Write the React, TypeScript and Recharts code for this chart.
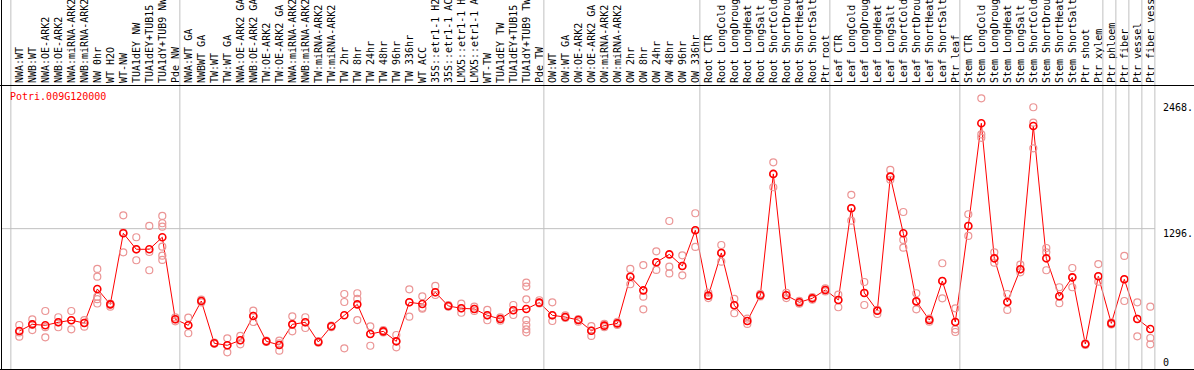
import { ComposedChart, Line, Scatter, XAxis, YAxis, ReferenceLine } from "recharts";

const categories = [
  "NWA:WT", "NWB:WT", "NWA:OE-ARK2", "NWB:OE-ARK2", "NWA:miRNA-ARK2", "NWB:miRNA-ARK2", "NW 0hr", "WT H2O", "WT-NW",
  "TUA1dEY NW", "TUA1dEY+TUB15", "TUA1dY+TUB9 NW", "Pde NW",
  "NWA:WT GA", "NWBWT GA", "TW:WT", "TW:WT GA", "NWA:OE-ARK2 GA", "NWB:OE-ARK2 GA", "TW:OE-ARK2", "TW:OE-ARK2 GA",
  "NWA:miRNA-ARK2", "NWB:miRNA-ARK2", "TW:miRNA-ARK2", "TW:miRNA-ARK2", "TW 2hr", "TW 8hr", "TW 24hr", "TW 48hr",
  "TW 96hr", "TW 336hr", "WT ACC", "35S::etr1-1 H2", "35S::etr1-1 AC", "LMX5::etr1-1 H", "LMX5::etr1-1 A", "WT-TW",
  "TUA1dEY TW", "TUA1dEY+TUB15", "TUA1dY+TUB9 TW", "Pde TW",
  "OW:WT", "OW:WT GA", "OW:OE-ARK2", "OW:OE-ARK2 GA", "OW:miRNA-ARK2", "OW:miRNA-ARK2", "OW 2hr", "OW 8hr",
  "OW 24hr", "OW 48hr", "OW 96hr", "OW 336hr",
  "Root CTR", "Root LongCold", "Root LongDroug", "Root LongHeat", "Root LongSalt", "Root ShortCold", "Root ShortDrou",
  "Root ShortHeat", "Root ShortSalt", "Ptr root",
  "Leaf CTR", "Leaf LongCold", "Leaf LongDroug", "Leaf LongHeat", "Leaf LongSalt", "Leaf ShortCold", "Leaf ShortDrou",
  "Leaf ShortHeat", "Leaf ShortSalt", "Ptr leaf",
  "Stem CTR", "Stem LongCold", "Stem LongDroug", "Stem LongHeat", "Stem LongSalt", "Stem ShortCold", "Stem ShortDrou",
  "Stem ShortHeat", "Stem ShortSalt", "Ptr shoot", "Ptr xylem",
  "Ptr phloem", "Ptr fiber", "Ptr vessel", "Ptr fiber vess",
];

const means = [
  344, 406, 397, 425, 444, 418, 735, 592, 1253, 1104, 1104, 1216, 453,
  397, 623, 230, 211, 258, 484, 248, 214, 406, 425, 242, 388, 490, 592, 316, 341, 248, 611, 595, 704, 577, 555, 549,
  490, 456, 537, 549, 608,
  490, 474, 446, 347, 394, 415, 849, 722, 983, 1057, 949, 1281,
  673, 1070, 583, 437, 676, 1805, 676, 611, 648, 726,
  633, 1486, 698, 533, 1780, 1253, 620, 446, 809, 428,
  1321, 2276, 1020, 614, 918, 2251, 1020, 667, 843, 223, 853,
  415, 825, 456, 363,
];

const replicates = [
  [400, 330, 291], [453, 406, 353], [530, 380, 285], [472, 425, 379], [530, 444, 360], [446, 420, 384],
  [921, 849, 663, 600, 640], [600, 592, 570], [1420, 1260, 1076], [1216, 1104, 1002], [1321, 1079, 909],
  [1414, 1346, 1314, 1128, 1045, 1005], [434, 453, 470],
  [468, 397, 323], [623, 610, 636], [230, 225, 236], [276, 211, 146], [298, 258, 220], [533, 484, 428],
  [254, 248, 242], [254, 230, 161], [481, 406, 341], [472, 425, 372], [242, 235, 250], [388, 380, 395],
  [688, 614, 183], [695, 642, 446], [388, 316, 207], [341, 352, 330], [307, 248, 192], [732, 611, 477],
  [667, 552, 560], [763, 704, 679], [577, 570, 585], [598, 555, 514], [570, 549, 530], [540, 490, 444],
  [470, 456, 440], [586, 537, 493], [794, 757, 639, 446, 400, 360, 332], [630, 608, 600],
  [611, 490, 437], [490, 474, 465], [446, 430, 455], [390, 347, 298], [410, 394, 380], [430, 415, 400],
  [921, 849, 779], [957, 663, 546], [1085, 983, 912], [1367, 942, 880], [1048, 949, 862], [1439, 1281, 1126],
  [700, 673, 650], [1144, 1070, 989], [642, 583, 509], [460, 437, 410], [690, 676, 665], [1913, 1805, 1681],
  [700, 676, 650], [625, 611, 598], [660, 648, 635], [740, 726, 712],
  [682, 633, 565], [1611, 1486, 1370], [800, 698, 586], [540, 533, 502], [1842, 1780, 1750],
  [1451, 1191, 1119], [695, 620, 546], [460, 446, 430], [974, 809, 648], [555, 428, 360, 335],
  [1430, 1321, 1228], [2508, 2172, 2141], [1076, 1020, 980], [688, 614, 540], [961, 918, 890],
  [2425, 2282, 2043], [1116, 1076, 909], [751, 667, 602], [930, 843, 751], [230, 223, 215], [967, 853, 803],
  [425, 415, 405], [1042, 825, 623], [611, 456, 295], [570, 279, 220],
];

// first index of each sample group; the last entry closes the final group
const groupStarts = [0, 13, 41, 53, 63, 73, 84, 85, 86, 87, 88];
const yTicks = [0, 1296, 2468];

const W = 1194;
const H = 370;
const font = "'DejaVu Sans Mono', monospace";

const meanData = means.map((v, i) => ({ idx: i, mean: v }));
const repData = replicates.flatMap((reps, i) => reps.map((v) => ({ idx: i, value: v })));
const boundaries = groupStarts.map((s) => s - 0.65);
const topTicks = [...categories.map((_, i) => i), ...boundaries];

function TopTick(props: any) {
  const { x, y, payload } = props;
  const v = payload.value;
  if (!Number.isInteger(v)) {
    return <line x1={x} x2={x} y1={0} y2={369} stroke="#c0c0c0" strokeWidth={1} />;
  }
  return (
    <text
      transform={`translate(${x + 3.5},${y}) rotate(-90)`}
      textAnchor="start"
      fontFamily={font}
      fontSize={10}
      fill="#000"
    >
      {categories[v]}
    </text>
  );
}

function RightTick(props: any) {
  const { x, y, payload } = props;
  const v = payload.value;
  return (
    <text x={x} y={v === 0 ? y - 2 : y + 8.5} textAnchor="start" fontFamily={font} fontSize={10} fill="#000">
      {v === 0 ? "0" : `${v}.`}
    </text>
  );
}

export default function App() {
  return (
    <div style={{ position: "relative", width: W, height: H, background: "#fff" }}>
      <style>{"body{margin:0}"}</style>
      <ComposedChart width={W} height={H} data={meanData} margin={{ top: 0, right: 0, bottom: 2, left: 1 }}>
        <XAxis dataKey="idx" type="number" domain={[-1.408, 87.36]} allowDataOverflow hide />
        <XAxis
          xAxisId="top"
          orientation="top"
          dataKey="idx"
          type="number"
          domain={[-1.408, 87.36]}
          allowDataOverflow
          height={85}
          ticks={topTicks}
          interval={0}
          tickSize={0}
          tickMargin={2}
          axisLine={false}
          tickLine={false}
          tick={<TopTick />}
        />
        <YAxis
          orientation="right"
          width={39}
          type="number"
          domain={[0, 2632]}
          allowDataOverflow
          ticks={yTicks}
          interval={0}
          axisLine={false}
          tickLine={false}
          tick={<RightTick />}
        />
        <ReferenceLine y={1296} stroke="#c0c0c0" strokeWidth={1} />
        <Scatter
          data={repData}
          dataKey="value"
          isAnimationActive={false}
          shape={(p: any) => <circle cx={p.cx} cy={p.cy} r={3.5} fill="none" stroke="#eb9595" strokeWidth={1.2} />}
        />
        <Line
          dataKey="mean"
          type="linear"
          stroke="#ff0000"
          strokeWidth={1}
          isAnimationActive={false}
          dot={{ r: 3.5, stroke: "#ff0000", strokeWidth: 1.6, fill: "none" }}
          activeDot={false}
        />
      </ComposedChart>
      <svg width={W} height={H} style={{ position: "absolute", left: 0, top: 0, pointerEvents: "none" }}>
        <line x1={1.5} x2={1.5} y1={0} y2={370} stroke="#000" strokeWidth={1} />
        <line x1={0} x2={W} y1={85.5} y2={85.5} stroke="#000" strokeWidth={1} />
        <line x1={0} x2={W} y1={369.5} y2={369.5} stroke="#000" strokeWidth={1} />
        <text x={10} y={100} fontFamily={font} fontSize={10} fill="#ff0000">
          Potri.009G120000
        </text>
      </svg>
    </div>
  );
}
